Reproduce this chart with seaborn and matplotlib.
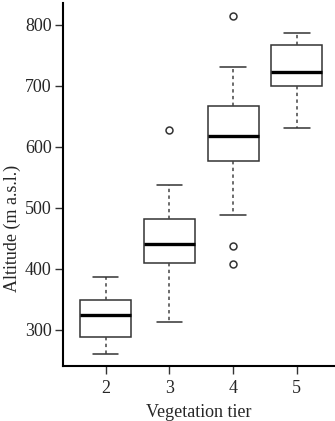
import pandas as pd
import matplotlib
matplotlib.use("Agg")
import matplotlib.pyplot as plt
import seaborn as sns

tiers = ["2", "3", "4", "5"]
tier2_alt = [261, 289, 324, 349, 386]
tier3_alt = [313, 380, 410, 425, 440, 460, 482, 538, 628]
tier4_alt = [408, 438, 488, 577, 595, 610, 618, 630, 650, 667, 700, 731, 815]
tier5_alt = [631, 700, 723, 767, 786]

y_ticks = [300, 400, 500, 600, 700, 800]

sns.set_style("ticks")
plt.rcParams["font.family"] = ["Liberation Serif", "DejaVu Serif"]

df = pd.DataFrame({
    "tier": (["2"] * len(tier2_alt) + ["3"] * len(tier3_alt)
             + ["4"] * len(tier4_alt) + ["5"] * len(tier5_alt)),
    "altitude": tier2_alt + tier3_alt + tier4_alt + tier5_alt,
})

fig = plt.figure(figsize=(3.35, 4.21), dpi=100)
ax = fig.add_axes([0.188, 0.131, 0.812, 0.862])

sns.boxplot(
    data=df, x="tier", y="altitude", order=tiers, ax=ax,
    color="white", linecolor="#333333", linewidth=1.1, width=0.8,
    whiskerprops=dict(linestyle=(0, (2.2, 2.2)), color="#444444"),
    capprops=dict(color="#333333"),
    medianprops=dict(color="black", linewidth=2.4),
    flierprops=dict(marker="o", markersize=5, markerfacecolor="none",
                    markeredgecolor="#333333", markeredgewidth=1.1),
)

ax.set_xlim(-0.67, 3.6)
ax.set_ylim(241, 836)
ax.set_yticks(y_ticks)
ax.set_yticklabels([str(v) for v in y_ticks])

for side in ["top", "right"]:
    ax.spines[side].set_visible(False)
for side in ["left", "bottom"]:
    ax.spines[side].set_linewidth(1.5)
    ax.spines[side].set_color("black")

ax.tick_params(axis="both", direction="out", length=6, width=1.0,
               color="#333333", labelsize=13, pad=2)
ax.tick_params(axis="x", pad=4)

ax.set_xlabel("Vegetation tier", fontsize=13, labelpad=5)
ax.set_ylabel("Altitude (m a.s.l.)", fontsize=13)
ax.yaxis.set_label_coords(-0.155, 0.38)

fig.savefig("out.png", dpi=100)
